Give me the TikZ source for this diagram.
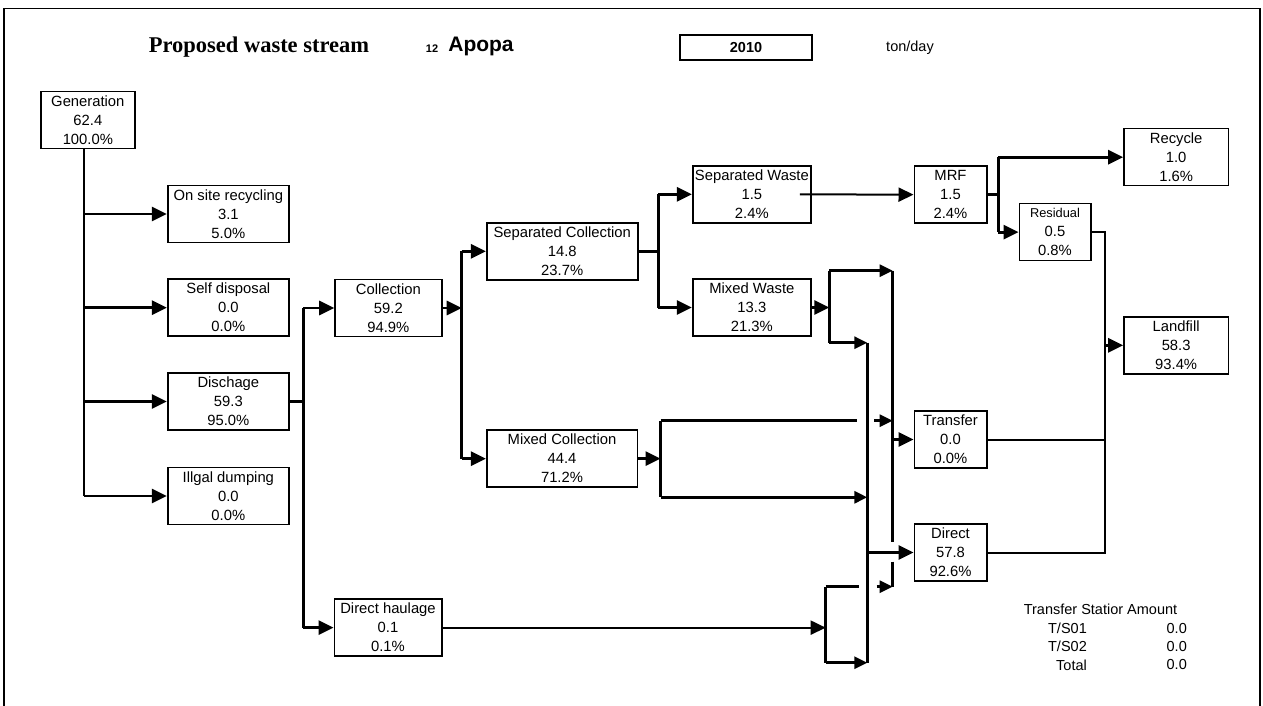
\documentclass[tikz,border=0pt]{standalone}
\usepackage{fontspec}
\setmainfont{Liberation Sans}
\newfontfamily\titlefont{Liberation Serif}
\usetikzlibrary{arrows.meta}
\begin{document}
\begin{tikzpicture}[x=1pt,y=-1pt,
  bx/.style={draw,line width=1.6pt,inner sep=0pt,align=center,minimum height=57pt,font=\fontsize{14.8}{19}\selectfont},
  ln/.style={line width=2.8pt},
  thin/.style={line width=2pt},
  ar/.style={line width=2.8pt,-{Triangle[length=15pt,width=14pt]}},
  sar/.style={line width=2.8pt,-{Triangle[length=13pt,width=12pt]}},
  txt/.style={inner sep=0pt,font=\fontsize{14.5}{19}\selectfont}]
\useasboundingbox (0,0) rectangle (1263,706);
% frame
\draw[line width=1.6pt] (4,706) -- (4,8.5) -- (1260,8.5) -- (1260,706);
% header
\node[inner sep=0pt,font=\titlefont\bfseries\fontsize{22.5}{26}\selectfont] (title) at (259,47) {Proposed waste stream};
\node[inner sep=0pt,font=\bfseries\fontsize{11}{13}\selectfont] (num) at (432,49) {12};
\node[inner sep=0pt,font=\bfseries\fontsize{21}{24}\selectfont] (town) at (481,46.5) {Apopa};
\node[draw,line width=1.5pt,inner sep=0pt,minimum width=132pt,minimum height=25pt,font=\bfseries\fontsize{14.5}{17}\selectfont] (year) at (746,47.5) {2010};
\node[txt] (unit) at (910,48) {ton/day};
% boxes
\node[bx,minimum width=94.3pt] (gen) at (87.85,120) {Generation\\62.4\\100.0\%};
\node[bx,minimum width=121.3pt] (onsite) at (228.35,214) {On site recycling\\3.1\\5.0\%};
\node[bx,minimum width=121.3pt] (selfd) at (228.35,307.65) {Self disposal\\0.0\\0.0\%};
\node[bx,minimum width=121.3pt] (disch) at (228.35,401.5) {Dischage\\59.3\\95.0\%};
\node[bx,minimum width=121.3pt] (ill) at (228.35,496) {Illgal dumping\\0.0\\0.0\%};
\node[bx,minimum width=106.7pt] (coll) at (388.35,308) {Collection\\59.2\\94.9\%};
\node[bx,minimum width=107.4pt] (dh) at (388,627.65) {Direct haulage\\0.1\\0.1\%};
\node[bx,minimum width=151pt] (sepc) at (562.2,251.35) {Separated Collection\\14.8\\23.7\%};
\node[bx,minimum width=150.6pt] (mixc) at (562,458.65) {Mixed Collection\\44.4\\71.2\%};
\node[bx,minimum width=118.3pt] (sepw) at (751.85,194.35) {Separated Waste\\1.5\\2.4\%};
\node[bx,minimum width=118.3pt] (mixw) at (751.85,307.5) {Mixed Waste\\13.3\\21.3\%};
\node[bx,minimum width=72.4pt] (mrf) at (950.5,194.65) {MRF\\1.5\\2.4\%};
\node[bx,minimum width=72.4pt] (trans) at (950.5,439.5) {Transfer\\0.0\\0.0\%};
\node[bx,minimum width=72.4pt] (dir) at (950.5,552.5) {Direct\\57.8\\92.6\%};
\node[bx,minimum width=104.3pt] (rec) at (1176.15,157.15) {Recycle\\1.0\\1.6\%};
\node[bx,minimum width=71.4pt] (res) at (1055,232.15) {{\fontsize{12.8}{19}\selectfont Residual}\\0.5\\0.8\%};
\node[bx,minimum width=104.3pt] (land) at (1176.15,345.35) {Landfill\\58.3\\93.4\%};
% generation split
\coordinate (gt) at (84,0);
\draw[ln] (gen.south -| gt) -- (gt |- ill.west);
\foreach \n in {onsite,selfd,disch,ill} \draw[ar] (gt |- \n.west) -- (\n.west);
% discharge split
\coordinate (d0) at (303.3,0);
\draw[ln] (disch.east) -- (d0 |- disch.east);
\draw[ln] (d0 |- coll.west) -- (d0 |- dh.west);
\draw[ar] (d0 |- coll.west) -- (coll.west);
\draw[ar] (d0 |- dh.west) -- (dh.west);
% collection split
\coordinate (c0) at (461.7,0);
\draw[ln] (c0 |- sepc.west) -- (c0 |- mixc.west);
\draw[ar] (coll.east) -- (c0 |- coll.east);
\draw[ar] (c0 |- sepc.west) -- (sepc.west);
\draw[ar] (c0 |- mixc.west) -- (mixc.west);
% separated collection split
\coordinate (s0) at (658.3,0);
\draw[ln] (sepc.east) -- (s0 |- sepc.east);
\draw[ln] (s0 |- sepw.west) -- (s0 |- mixw.west);
\draw[ar] (s0 |- sepw.west) -- (sepw.west);
\draw[ar] (s0 |- mixw.west) -- (mixw.west);
% separated waste to MRF
\draw[thin,-{Triangle[length=15pt,width=14pt]}] ([xshift=-12pt]sepw.east) -- (mrf.west);
% MRF split
\coordinate (m0) at (998.3,0);
\draw[ln] (mrf.east) -- (m0 |- mrf.east);
\draw[ln] (m0 |- rec.west) -- (m0 |- res.west);
\draw[ar] (m0 |- rec.west) -- (rec.west);
\draw[ar] (m0 |- res.west) -- (res.west);
% to landfill
\coordinate (r0) at (1105,0);
\draw[thin] (res.east) -- (r0 |- res.east) -- (r0 |- dir.east) -- (dir.east);
\draw[thin] (trans.east) -- (r0 |- trans.east);
\draw[ar] (r0 |- land.west) -- (land.west);
% buses
\coordinate (bA) at (892.7,0);
\coordinate (bB) at (867.3,0);
\coordinate (wt) at (829.3,270.7);
\coordinate (wb) at (829.3,342.7);
\coordinate (a1) at (892.7,541.7);
\coordinate (a2) at (892.7,561.7);
\coordinate (a3) at (892.7,586.7);
\coordinate (b3) at (867.3,662.7);
% mixed waste split
\draw[ar] (mixw.east) -- (wt |- mixw.east);
\draw[ln] (wt) -- (wb);
\draw[ln] (bA |- wt) -- (a1);
\draw[ln] (a2) -- (a3);
\draw[ln] (bB |- wb) -- (b3);
\draw[sar] (wt) -- (bA |- wt);
\draw[sar] (wb) -- (bB |- wb);
\draw[ar] (bA |- trans.west) -- (trans.west);
\draw[ar] (bB |- dir.west) -- (dir.west);
% mixed collection split
\coordinate (xt) at (660.5,420.7);
\coordinate (xb) at (660.5,497.3);
\coordinate (xe) at (856.7,420.7);
\coordinate (ya) at (874,420.7);
\draw[ar] (mixc.east) -- (xt |- mixc.east);
\draw[ln] (xt) -- (xb);
\draw[ln] (xt) -- (xe);
\draw[sar] (ya) -- (bA |- ya);
\draw[sar] (xb) -- (bB |- xb);
% direct haulage split
\coordinate (ht) at (825.7,586.7);
\coordinate (hb) at (825.7,662.7);
\coordinate (he) at (859.3,586.7);
\coordinate (yb) at (876.7,586.7);
\draw[thin,-{Triangle[length=15pt,width=14pt]}] (dh.east) -- (ht |- dh.east);
\draw[ln] (ht) -- (hb);
\draw[ln] (ht) -- (he);
\draw[sar] (yb) -- (a3);
\draw[sar] (hb) -- (b3);
% transfer station table
\node[txt] (tsa) at (1100.5,609.3) {Transfer Statior Amount};
\node[txt,anchor=east] (ts1) at (1087,628.3) {T/S01};
\node[txt,anchor=east] (ts2) at (1087,646.7) {T/S02};
\node[txt,anchor=east] (tst) at (1087,665) {Total};
\node[txt,anchor=east] (v1) at (1187,628.3) {0.0};
\node[txt,anchor=east] (v2) at (1187,646.7) {0.0};
\node[txt,anchor=east] (v3) at (1187,665) {0.0};
\end{tikzpicture}
\end{document}
